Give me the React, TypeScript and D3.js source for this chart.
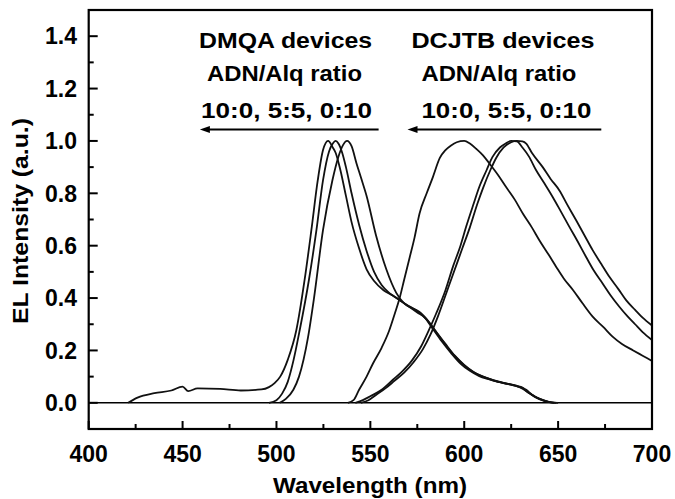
import React, { useEffect, useRef } from 'react';
import * as d3 from 'd3';

// tick labels
const xTicks = [400, 450, 500, 550, 600, 650, 700];
const xMinor = [425, 475, 525, 575, 625, 675];
const yTicks = [0.0, 0.2, 0.4, 0.6, 0.8, 1.0, 1.2, 1.4];
const yMinor = [-0.1, 0.1, 0.3, 0.5, 0.7, 0.9, 1.1, 1.3];

// DMQA devices (10:0 has the blue tail)
const dmqaAWl = [421, 426, 435, 444, 450, 453, 458, 470, 481, 492, 496, 499, 502, 506, 510.6, 515, 518.6, 522, 524.8, 527.5, 530, 531.5, 534, 537, 540, 544, 548, 552, 557, 562, 566, 570, 575, 580, 585, 590, 595, 600, 605, 610, 615, 620, 625, 629, 632, 635, 640, 645, 648];
const dmqaAInt = [0, 0.02, 0.037, 0.047, 0.062, 0.045, 0.055, 0.053, 0.047, 0.051, 0.06, 0.075, 0.1, 0.164, 0.278, 0.47, 0.66, 0.85, 0.965, 1.0, 0.975, 0.955, 0.89, 0.79, 0.69, 0.59, 0.51, 0.465, 0.43, 0.41, 0.39, 0.372, 0.35, 0.318, 0.27, 0.222, 0.178, 0.143, 0.117, 0.1, 0.088, 0.078, 0.07, 0.062, 0.05, 0.035, 0.016, 0.004, 0];

const dmqaBWl = [496, 500, 503, 506, 509, 512.4, 517.3, 521.3, 524.8, 528, 530, 531.5, 533, 535, 537, 540, 544, 548, 552, 556, 560, 565, 570, 575, 579, 583, 588, 593, 598, 603, 608, 613, 618, 623, 628, 631, 633, 636, 640, 645, 649];
const dmqaBInt = [0, 0.01, 0.035, 0.08, 0.16, 0.278, 0.47, 0.66, 0.85, 0.96, 0.99, 1.0, 0.99, 0.955, 0.9, 0.8, 0.68, 0.58, 0.5, 0.45, 0.42, 0.395, 0.37, 0.345, 0.325, 0.285, 0.235, 0.19, 0.15, 0.122, 0.102, 0.09, 0.08, 0.072, 0.064, 0.058, 0.045, 0.032, 0.015, 0.004, 0];

const dmqaCWl = [501.7, 505, 509, 512, 516.8, 520, 524.8, 529.8, 533, 535.5, 537.6, 540, 542.6, 545, 548, 553, 558.5, 563.8, 568, 572, 576, 580, 585, 590, 595, 600, 605, 610, 615, 620, 625, 629, 633, 636, 640, 645, 650];
const dmqaCInt = [0, 0.015, 0.05, 0.1, 0.25, 0.4, 0.66, 0.85, 0.94, 0.985, 1.0, 0.98, 0.915, 0.86, 0.79, 0.64, 0.51, 0.42, 0.38, 0.362, 0.348, 0.32, 0.272, 0.225, 0.18, 0.145, 0.118, 0.1, 0.087, 0.077, 0.069, 0.061, 0.05, 0.03, 0.014, 0.003, 0];

// DCJTB devices
const dcjtbAWl = [538, 541, 544, 548, 551.4, 556, 560, 563, 565.6, 568, 571, 573.5, 576.2, 580, 583.3, 587, 590, 593, 596, 600, 603, 606.4, 610, 613.5, 618, 622.3, 627, 631.2, 636, 640, 645, 649, 653, 658, 663, 668.4, 674, 679, 684, 690, 695, 700];
const dcjtbAInt = [0, 0.01, 0.05, 0.1, 0.15, 0.21, 0.275, 0.34, 0.4, 0.47, 0.557, 0.63, 0.723, 0.8, 0.862, 0.935, 0.965, 0.983, 0.995, 1.0, 0.99, 0.97, 0.945, 0.913, 0.87, 0.824, 0.775, 0.723, 0.67, 0.621, 0.565, 0.519, 0.475, 0.43, 0.38, 0.329, 0.29, 0.253, 0.225, 0.2, 0.18, 0.16];

const dcjtbBWl = [542, 546, 550, 556, 562, 567, 572, 577, 581, 585, 590, 594, 598, 601, 605, 608, 612, 615, 619, 622, 625, 628, 631, 634.5, 638.3, 642.5, 647.1, 651.5, 656, 660.5, 664.9, 669, 673.7, 678, 682.6, 687, 691, 695, 700];
const dcjtbBInt = [0, 0.01, 0.025, 0.05, 0.088, 0.12, 0.16, 0.215, 0.275, 0.34, 0.43, 0.52, 0.6, 0.672, 0.76, 0.824, 0.89, 0.938, 0.975, 0.99, 1.0, 0.998, 0.975, 0.94, 0.888, 0.84, 0.786, 0.73, 0.672, 0.615, 0.557, 0.505, 0.456, 0.41, 0.367, 0.33, 0.3, 0.27, 0.24];

const dcjtbCWl = [545, 549, 553, 558, 563, 568, 573, 578, 582, 586, 591, 595, 599, 603, 607, 610, 614, 617, 621, 625, 628, 631, 633, 636, 641.8, 646, 650.7, 655, 659.6, 664, 668.4, 673, 677.3, 682, 686.2, 691, 695, 700];
const dcjtbCInt = [0, 0.01, 0.03, 0.055, 0.085, 0.115, 0.155, 0.205, 0.26, 0.33, 0.43, 0.51, 0.59, 0.67, 0.76, 0.82, 0.89, 0.935, 0.975, 0.995, 1.0, 0.998, 0.99, 0.955, 0.9, 0.855, 0.811, 0.755, 0.697, 0.64, 0.583, 0.53, 0.481, 0.435, 0.392, 0.355, 0.325, 0.295];

const series = [
    [dmqaAWl, dmqaAInt], [dmqaBWl, dmqaBInt], [dmqaCWl, dmqaCInt],
    [dcjtbAWl, dcjtbAInt], [dcjtbBWl, dcjtbBInt], [dcjtbCWl, dcjtbCInt],
];

// annotation text lines
const dmqaLabels = ['DMQA devices', 'ADN/Alq ratio', '10:0, 5:5, 0:10'];
const dcjtbLabels = ['DCJTB devices', 'ADN/Alq ratio', '10:0, 5:5, 0:10'];

const font = '"Liberation Sans", Arial, sans-serif';

const App = () => {
    const ref = useRef(null);

    useEffect(() => {
        const svg = d3.select(ref.current);
        svg.selectAll('*').remove();

        const left = 88.7, right = 652, top = 10, bottom = 429;
        const x = d3.scaleLinear().domain([400, 700]).range([left, right]);
        const y = d3.scaleLinear().domain([-0.1, 1.5]).range([bottom, top]);

        // zero line
        svg.append('line')
            .attr('x1', left).attr('x2', right)
            .attr('y1', y(0)).attr('y2', y(0))
            .attr('stroke', '#000').attr('stroke-width', 1.6);

        // spectra
        const line = d3.line()
            .x(d => x(d[0]))
            .y(d => y(d[1]))
            .curve(d3.curveMonotoneX);

        series.forEach(([wl, val]) => {
            svg.append('path')
                .datum(wl.map((w, i) => [w, val[i]]))
                .attr('d', line)
                .attr('fill', 'none')
                .attr('stroke', '#111')
                .attr('stroke-width', 1.8);
        });

        // frame
        svg.append('rect')
            .attr('x', left).attr('y', top)
            .attr('width', right - left).attr('height', bottom - top)
            .attr('fill', 'none').attr('stroke', '#000').attr('stroke-width', 2.2);

        // x ticks (inside)
        xTicks.forEach(t => {
            svg.append('line').attr('x1', x(t)).attr('x2', x(t))
                .attr('y1', bottom).attr('y2', bottom - 8)
                .attr('stroke', '#000').attr('stroke-width', 2);
            svg.append('text').attr('x', x(t)).attr('y', 462)
                .attr('text-anchor', 'middle')
                .attr('font-family', font).attr('font-weight', 'bold').attr('font-size', 23)
                .text(t);
        });
        xMinor.forEach(t => {
            svg.append('line').attr('x1', x(t)).attr('x2', x(t))
                .attr('y1', bottom).attr('y2', bottom - 5)
                .attr('stroke', '#000').attr('stroke-width', 2);
        });

        // y ticks (inside)
        yTicks.forEach(t => {
            svg.append('line').attr('x1', left).attr('x2', left + 9)
                .attr('y1', y(t)).attr('y2', y(t))
                .attr('stroke', '#000').attr('stroke-width', 2);
            svg.append('text').attr('x', 77).attr('y', y(t)).attr('dy', '0.36em')
                .attr('text-anchor', 'end')
                .attr('font-family', font).attr('font-weight', 'bold').attr('font-size', 23)
                .text(t.toFixed(1));
        });
        yMinor.forEach(t => {
            svg.append('line').attr('x1', left).attr('x2', left + 5)
                .attr('y1', y(t)).attr('y2', y(t))
                .attr('stroke', '#000').attr('stroke-width', 2);
        });

        // axis titles
        svg.append('text').attr('x', 370).attr('y', 493)
            .attr('text-anchor', 'middle')
            .attr('font-family', font).attr('font-weight', 'bold').attr('font-size', 22)
            .attr('textLength', 194).attr('lengthAdjust', 'spacingAndGlyphs')
            .text('Wavelength (nm)');
        svg.append('text')
            .attr('transform', 'translate(28,221) rotate(-90)')
            .attr('text-anchor', 'middle')
            .attr('font-family', font).attr('font-weight', 'bold').attr('font-size', 22)
            .attr('textLength', 206).attr('lengthAdjust', 'spacingAndGlyphs')
            .text('EL Intensity (a.u.)');

        // annotations
        const block = (labels, xs, widths, arrowFrom, arrowTo) => {
            const baselines = [1.356, 1.23, 1.086];
            labels.forEach((s, i) => {
                svg.append('text')
                    .attr('x', x(xs[i])).attr('y', y(baselines[i]))
                    .attr('font-family', font).attr('font-weight', 'bold').attr('font-size', 22)
                    .attr('textLength', widths[i]).attr('lengthAdjust', 'spacingAndGlyphs')
                    .text(s);
            });
            const ay = y(1.044);
            svg.append('line')
                .attr('x1', x(arrowFrom)).attr('x2', x(arrowTo) + 8)
                .attr('y1', ay).attr('y2', ay)
                .attr('stroke', '#000').attr('stroke-width', 2);
            svg.append('path')
                .attr('d', `M${x(arrowTo)},${ay} l10,-3.5 l0,7 z`)
                .attr('fill', '#000');
        };
        block(dmqaLabels, [458.8, 463, 459.8], [173, 155, 171], 554.4, 459.2);
        block(dcjtbLabels, [571.9, 577.2, 577.2], [183, 155, 170], 673, 569.8);
    }, []);

    return (
        <svg ref={ref} width={675} height={499}
             style={{ position: 'absolute', left: 0, top: 0, background: '#fff' }} />
    );
};

export default App;
